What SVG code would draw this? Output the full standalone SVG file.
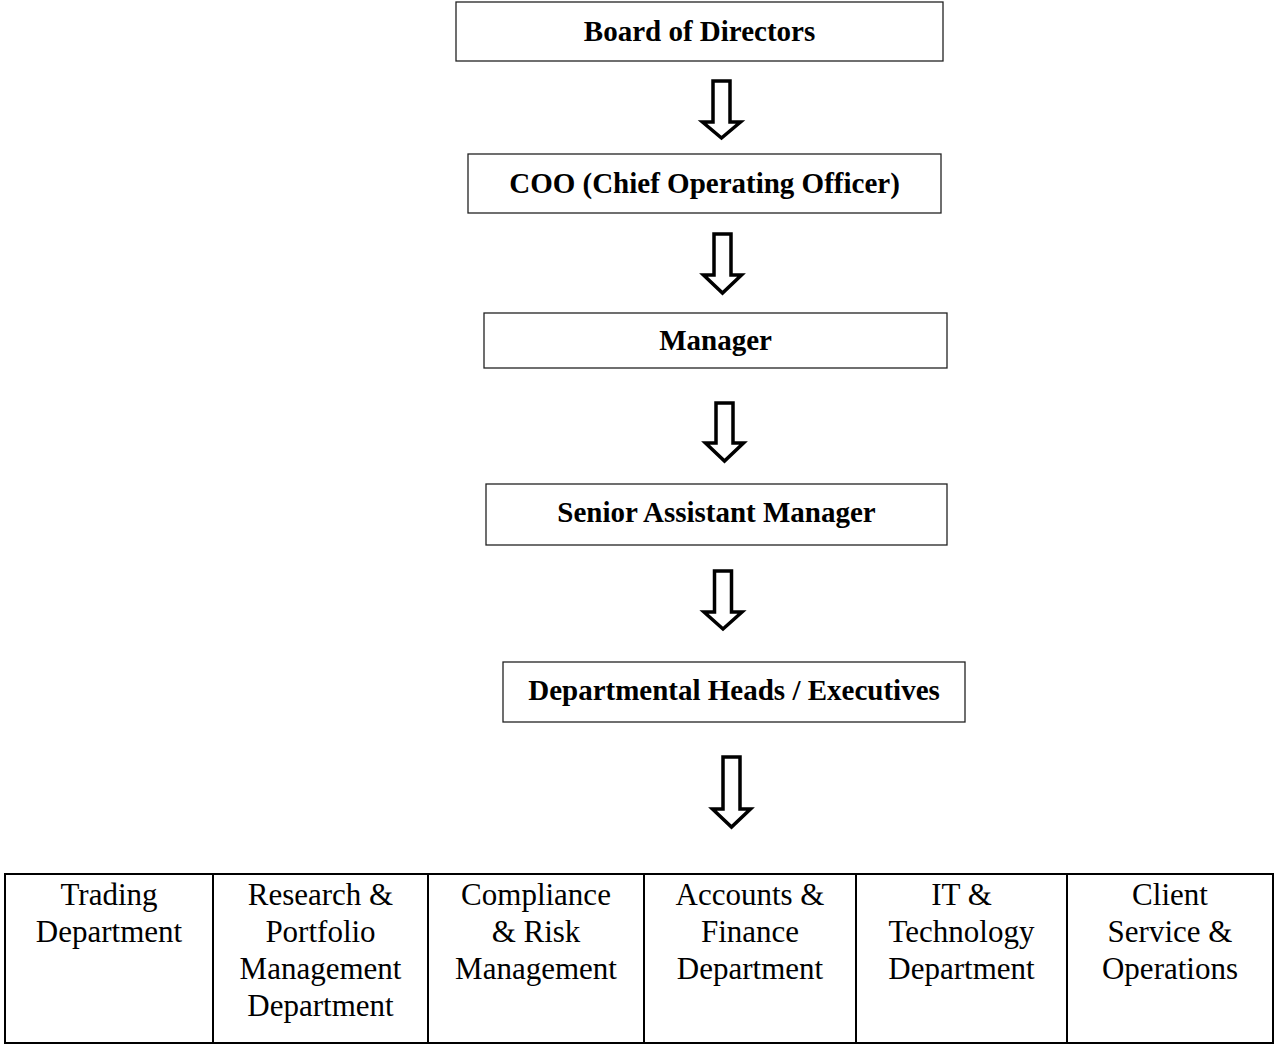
<svg xmlns="http://www.w3.org/2000/svg" width="1277" height="1045" viewBox="0 0 1277 1045">
<style>
.box{fill:#fff;stroke:#222;stroke-width:1.3}
.t{font-family:"Liberation Serif","Times New Roman",serif;font-size:29px;font-weight:bold;text-anchor:middle;fill:#000}
.d{font-family:"Liberation Serif","Times New Roman",serif;font-size:31px;text-anchor:middle;fill:#000}
.cell{fill:#fff;stroke:#000;stroke-width:2}
.arr{fill:#fff;stroke:#000;stroke-width:3.5;stroke-linejoin:miter}
</style>
<rect width="1277" height="1045" fill="#fff"/>
<g id="board"><rect class="box" x="456" y="2" width="487" height="59"/><text class="t" x="699.5" y="41">Board of Directors</text></g>
<g id="coo"><rect class="box" x="468" y="154" width="473" height="59"/><text class="t" x="704.5" y="193">COO (Chief Operating Officer)</text></g>
<g id="manager"><rect class="box" x="484" y="313" width="463" height="55"/><text class="t" x="715.5" y="350">Manager</text></g>
<g id="senior"><rect class="box" x="486" y="484" width="461" height="61"/><text class="t" x="716.5" y="522">Senior Assistant Manager</text></g>
<g id="heads"><rect class="box" x="503" y="662" width="462" height="60"/><text class="t" x="734" y="700">Departmental Heads / Executives</text></g>
<g id="connectors">
<path class="arr" d="M713,81 L730,81 L730,122 L740.5,122 L721.5,138 L702.5,122 L713,122 Z"/>
<path class="arr" d="M714,234 L731,234 L731,275 L741.5,275 L722.5,293 L703.5,275 L714,275 Z"/>
<path class="arr" d="M716,403 L733,403 L733,443 L743.5,443 L724.5,461 L705.5,443 L716,443 Z"/>
<path class="arr" d="M714.5,571 L731.5,571 L731.5,612 L742,612 L723,629 L704,612 L714.5,612 Z"/>
<path class="arr" d="M723,757 L740,757 L740,809 L750.5,809 L731.5,827 L712.5,809 L723,809 Z"/>
</g>
<g id="trading"><rect class="cell" x="5" y="874" width="208" height="169"/><text class="d" x="109" y="905">Trading</text><text class="d" x="109" y="942">Department</text></g>
<g id="research"><rect class="cell" x="213" y="874" width="215" height="169"/><text class="d" x="320.5" y="905">Research &amp;</text><text class="d" x="320.5" y="942">Portfolio</text><text class="d" x="320.5" y="979">Management</text><text class="d" x="320.5" y="1016">Department</text></g>
<g id="compliance"><rect class="cell" x="428" y="874" width="216" height="169"/><text class="d" x="536" y="905">Compliance</text><text class="d" x="536" y="942">&amp; Risk</text><text class="d" x="536" y="979">Management</text></g>
<g id="accounts"><rect class="cell" x="644" y="874" width="212" height="169"/><text class="d" x="750" y="905">Accounts &amp;</text><text class="d" x="750" y="942">Finance</text><text class="d" x="750" y="979">Department</text></g>
<g id="it"><rect class="cell" x="856" y="874" width="211" height="169"/><text class="d" x="961.5" y="905">IT &amp;</text><text class="d" x="961.5" y="942">Technology</text><text class="d" x="961.5" y="979">Department</text></g>
<g id="client"><rect class="cell" x="1067" y="874" width="206" height="169"/><text class="d" x="1170" y="905">Client</text><text class="d" x="1170" y="942">Service &amp;</text><text class="d" x="1170" y="979">Operations</text></g>
</svg>
